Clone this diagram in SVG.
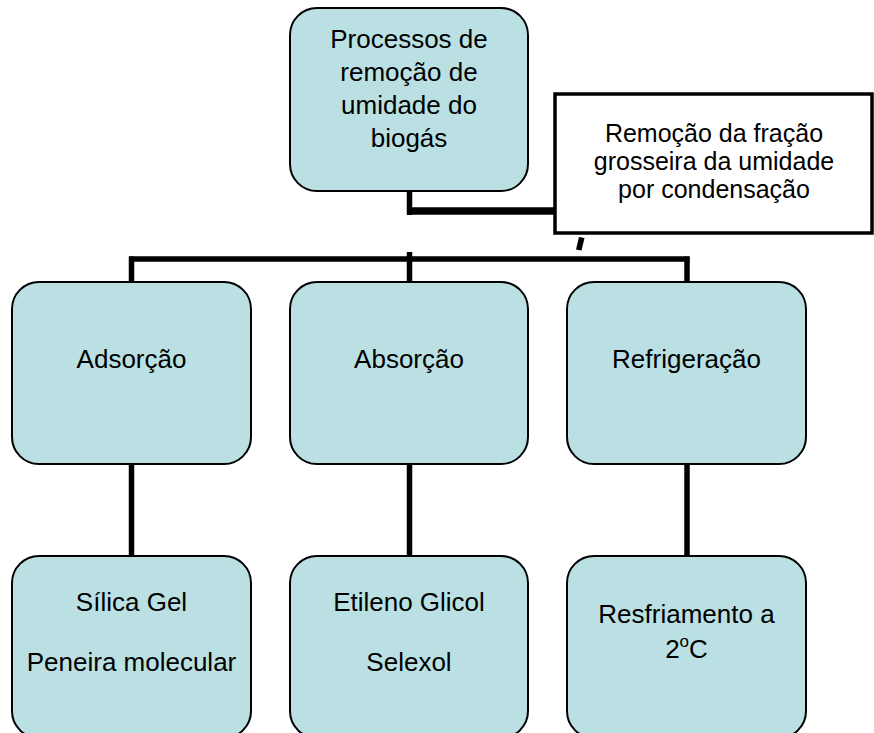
<svg xmlns="http://www.w3.org/2000/svg" width="874" height="733" viewBox="0 0 874 733">
<style>
.box{fill:#BAE0E3;stroke:#000;stroke-width:2}
.call{fill:#fff;stroke:#000;stroke-width:3.5}
.t{font-family:"Liberation Sans",Arial,sans-serif;font-size:26px;fill:#000;text-anchor:middle}
.n{font-size:25px}
.c{stroke:#000;fill:none;stroke-linecap:butt}
</style>
<rect width="874" height="733" fill="#fff"/>
<g id="connectors">
<line class="c" x1="409.5" y1="191" x2="409.5" y2="215" stroke-width="5.5"/>
<line class="c" x1="407" y1="211" x2="556" y2="211" stroke-width="7.5"/>
<polygon points="579,237 584.5,238 581.5,250.5 576,249.5" fill="#000"/>
<line class="c" x1="409.5" y1="252" x2="409.5" y2="282" stroke-width="5.5"/>
<line class="c" x1="129" y1="259" x2="689.5" y2="259" stroke-width="5.5"/>
<line class="c" x1="131.5" y1="256.5" x2="131.5" y2="282" stroke-width="5.5"/>
<line class="c" x1="687" y1="256.5" x2="687" y2="282" stroke-width="5.5"/>
<line class="c" x1="131.5" y1="464" x2="131.5" y2="557" stroke-width="5.5"/>
<line class="c" x1="409.5" y1="464" x2="409.5" y2="557" stroke-width="5.5"/>
<line class="c" x1="687" y1="464" x2="687" y2="557" stroke-width="5.5"/>
</g>
<g id="root">
<rect class="box" x="290" y="8" width="238" height="183" rx="27"/>
<text class="t" x="409" y="48">Processos de</text>
<text class="t" x="409" y="81">remoção de</text>
<text class="t" x="409" y="114">umidade do</text>
<text class="t" x="409" y="147">biogás</text>
</g>
<g id="note">
<rect class="call" x="555" y="94" width="317" height="139"/>
<text class="t n" x="714" y="142">Remoção da fração</text>
<text class="t n" x="714" y="170">grosseira da umidade</text>
<text class="t n" x="714" y="198">por condensação</text>
</g>
<g id="adsorcao">
<rect class="box" x="12" y="282" width="239" height="182" rx="27"/>
<text class="t" x="131.5" y="368">Adsorção</text>
</g>
<g id="absorcao">
<rect class="box" x="290" y="282" width="238" height="182" rx="27"/>
<text class="t" x="409" y="368">Absorção</text>
</g>
<g id="refrigeracao">
<rect class="box" x="567" y="282" width="239" height="182" rx="27"/>
<text class="t" x="686.5" y="368">Refrigeração</text>
</g>
<g id="silica">
<rect class="box" x="12" y="556" width="239" height="182" rx="27"/>
<text class="t" x="131.5" y="611">Sílica Gel</text>
<text class="t" x="131.5" y="671">Peneira molecular</text>
</g>
<g id="etileno">
<rect class="box" x="290" y="556" width="238" height="182" rx="27"/>
<text class="t" x="409" y="611">Etileno Glicol</text>
<text class="t" x="409" y="671">Selexol</text>
</g>
<g id="resfriamento">
<rect class="box" x="567" y="556" width="239" height="182" rx="27"/>
<text class="t" x="686.5" y="623">Resfriamento a</text>
<text class="t" x="686.5" y="658">2<tspan font-size="17" dy="-11">o</tspan><tspan dy="11">C</tspan></text>
</g>
</svg>
